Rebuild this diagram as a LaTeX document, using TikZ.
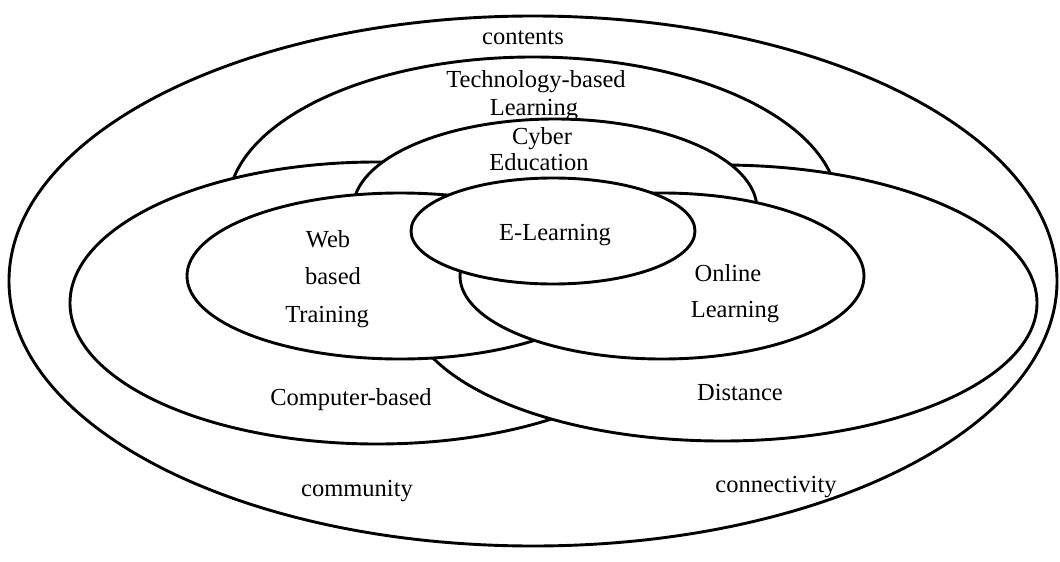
\documentclass[tikz,border=0pt]{standalone}
\usepackage{fontspec}
\setmainfont{Liberation Serif}
\begin{document}
\begin{tikzpicture}[x=1pt,y=-1pt,
  ring/.style={draw=black, line width=2.9pt, fill=white},
  lbl/.style={font=\fontsize{24.5}{28}\selectfont, inner sep=0pt, anchor=base}]
\useasboundingbox (0,0) rectangle (1060,562);

% nested and overlapping areas, drawn from back to front
\draw[ring] (533,281) ellipse [x radius=524pt, y radius=265pt];   % whole field
\draw[ring] (533,207) ellipse [x radius=305pt, y radius=150pt];   % technology-based
\draw[ring] (377,303) ellipse [x radius=307pt, y radius=141pt];   % computer-based
\draw[ring] (722,303) ellipse [x radius=315pt, y radius=138pt];   % distance
\draw[ring] (555,209) ellipse [x radius=202pt, y radius=90pt];    % cyber education
\draw[ring] (400,276) ellipse [x radius=213pt, y radius=83pt];    % web based training
\draw[ring] (662,276) ellipse [x radius=202pt, y radius=83pt];    % online learning
\draw[ring] (553,231) ellipse [x radius=142pt, y radius=53pt];    % e-learning

% labels
\node[lbl] (contents)  at (523,44)  {contents};
\node[lbl] (tech1)     at (536,87)  {Technology-based};
\node[lbl] (tech2)     at (534,115) {Learning};
\node[lbl] (cyber1)    at (542,144) {Cyber};
\node[lbl] (cyber2)    at (539,170) {Education};
\node[lbl] (elearn)    at (555,240) {E-Learning};
\node[lbl] (web1)      at (328,247) {Web};
\node[lbl] (web2)      at (333,284) {based};
\node[lbl] (web3)      at (327,322) {Training};
\node[lbl] (online1)   at (728,281) {Online};
\node[lbl] (online2)   at (735,317) {Learning};
\node[lbl] (computer)  at (351,405) {Computer-based};
\node[lbl] (distance)  at (740,400) {Distance};
\node[lbl] (community) at (357,496) {community};
\node[lbl] (connect)   at (776,492) {connectivity};
\end{tikzpicture}
\end{document}
